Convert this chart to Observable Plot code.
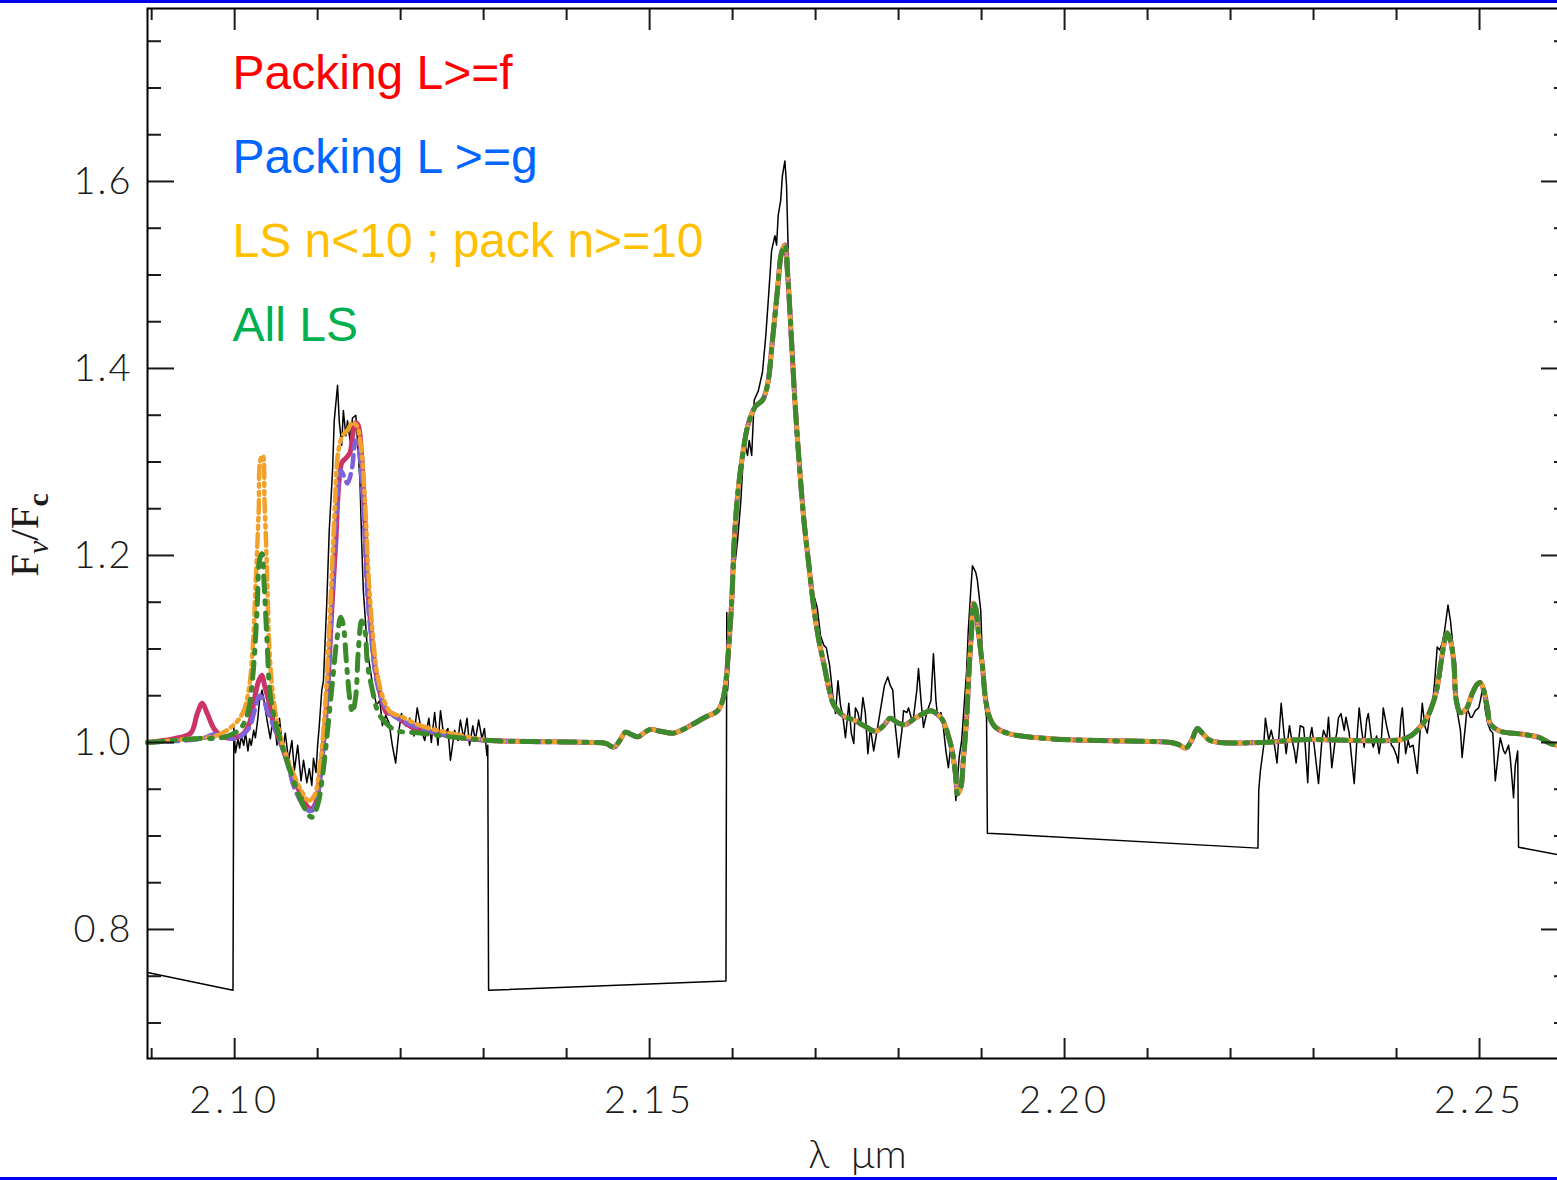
<!DOCTYPE html>
<html><head><meta charset="utf-8">
<script src="https://cdn.jsdelivr.net/npm/d3@7"></script>
<script src="https://cdn.jsdelivr.net/npm/@observablehq/plot@0.6"></script>
<style>
body{margin:0;background:#fff;}
#wrap{position:relative;width:1557px;height:1180px;overflow:hidden;background:#fff;}
.bar{position:absolute;left:0;width:1557px;height:3px;background:#0000f0;z-index:2;}
#wrap svg{display:block;position:absolute;left:0;top:0;max-width:none !important;width:1570px !important;height:1180px !important;}
#wrap svg g[aria-label="x-axis tick label"] text{letter-spacing:4px;}
#wrap svg g[aria-label="y-axis tick label"] text{letter-spacing:2px;}
</style></head><body>
<div id="wrap"><div class="bar" style="top:0"></div><div class="bar" style="bottom:0"></div></div>
<script>
// ---------- observed spectrum (wavelength µm, Fν/Fc) ----------
const observedA = [[2.0895,0.754],[2.0998,0.735],[2.0999,1.016],[2.1001,0.989],[2.1004,1.004],[2.1006,0.994],[2.1008,1.007],[2.1011,0.997],[2.1013,1.011],[2.1016,0.991],[2.1018,1.004],[2.1020,0.997],[2.1023,1.013],[2.1025,1.005],[2.1028,1.026],[2.1030,1.045],[2.1033,1.056],[2.1035,1.047],[2.1039,1.024],[2.1043,1.004],[2.1047,1.032],[2.1051,0.997],[2.1054,1.026],[2.1058,0.991],[2.1061,1.010],[2.1065,0.981],[2.1069,1.002],[2.1072,0.970],[2.1076,0.997],[2.1080,0.959],[2.1083,0.981],[2.1087,0.957],[2.1090,0.972],[2.1093,0.954],[2.1095,0.983],[2.1098,0.968],[2.1100,0.997],[2.1102,1.018],[2.1105,1.056],[2.1107,1.066],[2.1111,1.149],[2.1114,1.227],[2.1118,1.291],[2.1120,1.344],[2.1124,1.382],[2.1126,1.344],[2.1129,1.318],[2.1131,1.355],[2.1134,1.328],[2.1136,1.344],[2.1139,1.323],[2.1142,1.347],[2.1146,1.350],[2.1148,1.323],[2.1151,1.280],[2.1153,1.216],[2.1155,1.163],[2.1158,1.125],[2.1160,1.098],[2.1164,1.075],[2.1167,1.056],[2.1171,1.040],[2.1175,1.045],[2.1178,1.018],[2.1182,1.029],[2.1186,1.021],[2.1190,0.997],[2.1194,0.978],[2.1198,1.013],[2.1201,1.031],[2.1206,1.018],[2.1211,1.026],[2.1216,1.007],[2.1220,1.037],[2.1225,1.013],[2.1229,1.002],[2.1234,1.026],[2.1237,1.000],[2.1241,1.032],[2.1245,0.997],[2.1248,1.034],[2.1252,1.007],[2.1257,1.015],[2.1260,0.981],[2.1265,1.013],[2.1269,1.002],[2.1272,1.024],[2.1276,1.004],[2.1280,1.026],[2.1283,0.997],[2.1287,1.018],[2.1290,1.002],[2.1294,1.024],[2.1298,1.004],[2.1301,1.015],[2.1304,0.986],[2.1305,0.997],[2.1306,0.735]];
const observedB = [[2.1592,0.745],[2.1593,1.139],[2.1594,1.056],[2.1596,1.088],[2.1599,1.141],[2.1602,1.184],[2.1606,1.216],[2.1610,1.259],[2.1614,1.323],[2.1618,1.307],[2.1620,1.323],[2.1623,1.307],[2.1626,1.366],[2.1631,1.376],[2.1636,1.396],[2.1640,1.435],[2.1643,1.473],[2.1647,1.526],[2.1651,1.542],[2.1653,1.532],[2.1655,1.564],[2.1658,1.580],[2.1660,1.606],[2.1663,1.622],[2.1665,1.596],[2.1667,1.526],[2.1670,1.462],[2.1673,1.403],[2.1677,1.344],[2.1681,1.291],[2.1684,1.248],[2.1688,1.211],[2.1692,1.179],[2.1695,1.163],[2.1699,1.154],[2.1702,1.144],[2.1706,1.114],[2.1710,1.104],[2.1713,1.101],[2.1717,1.082],[2.1721,1.048],[2.1724,1.031],[2.1727,1.066],[2.1730,1.040],[2.1733,1.027],[2.1736,1.005],[2.1740,1.042],[2.1743,1.010],[2.1746,0.999],[2.1748,1.037],[2.1751,1.032],[2.1754,1.018],[2.1757,1.048],[2.1760,1.031],[2.1763,0.988],[2.1766,1.016],[2.1770,0.991],[2.1773,1.007],[2.1778,1.034],[2.1783,1.061],[2.1787,1.070],[2.1790,1.061],[2.1793,1.056],[2.1796,1.018],[2.1800,0.984],[2.1804,1.013],[2.1806,1.034],[2.1810,1.032],[2.1812,1.037],[2.1816,1.024],[2.1818,1.027],[2.1822,1.056],[2.1824,1.079],[2.1827,1.045],[2.1830,1.016],[2.1834,1.032],[2.1839,1.045],[2.1842,1.095],[2.1845,1.045],[2.1847,1.027],[2.1851,1.032],[2.1853,1.024],[2.1857,0.991],[2.1860,0.973],[2.1863,0.997],[2.1865,0.988],[2.1869,0.938],[2.1873,0.984],[2.1876,1.002],[2.1878,1.027],[2.1882,1.077],[2.1884,1.120],[2.1887,1.163],[2.1889,1.189],[2.1893,1.182],[2.1895,1.173],[2.1899,1.141],[2.1901,1.088],[2.1904,1.040],[2.1906,1.026],[2.1907,0.903]];
const observedC = [[2.2233,0.887],[2.2234,0.949],[2.2236,0.970],[2.2240,0.997],[2.2242,1.026],[2.2246,1.002],[2.2249,1.013],[2.2253,0.997],[2.2256,0.978],[2.2261,1.042],[2.2264,1.013],[2.2267,0.988],[2.2271,1.018],[2.2273,1.007],[2.2277,0.991],[2.2279,0.978],[2.2284,1.018],[2.2288,1.016],[2.2290,0.997],[2.2293,0.957],[2.2295,1.002],[2.2298,1.016],[2.2301,0.995],[2.2306,0.956],[2.2310,1.002],[2.2312,1.013],[2.2316,1.004],[2.2318,1.027],[2.2322,0.973],[2.2326,1.002],[2.2328,1.010],[2.2330,1.026],[2.2333,1.031],[2.2337,1.013],[2.2339,1.027],[2.2343,1.010],[2.2345,0.991],[2.2349,0.956],[2.2353,1.013],[2.2355,1.037],[2.2358,1.013],[2.2361,0.995],[2.2364,1.024],[2.2366,1.031],[2.2370,1.002],[2.2372,0.995],[2.2376,1.007],[2.2379,0.988],[2.2382,1.007],[2.2384,1.037],[2.2388,1.018],[2.2390,1.010],[2.2394,0.997],[2.2396,0.995],[2.2400,0.986],[2.2402,0.978],[2.2405,1.024],[2.2407,1.037],[2.2411,0.988],[2.2414,1.002],[2.2416,0.995],[2.2420,0.997],[2.2425,0.967],[2.2428,1.007],[2.2431,1.042],[2.2434,1.018],[2.2437,1.010],[2.2440,1.029],[2.2443,1.037],[2.2446,1.066],[2.2449,1.102],[2.2452,1.099],[2.2455,1.106],[2.2458,1.120],[2.2462,1.147],[2.2465,1.130],[2.2467,1.112],[2.2471,1.066],[2.2473,1.034],[2.2477,1.013],[2.2479,0.984],[2.2483,1.018],[2.2485,1.037],[2.2489,1.027],[2.2491,1.027],[2.2495,1.034],[2.2499,1.037],[2.2501,1.045],[2.2504,1.059],[2.2507,1.034],[2.2510,1.020],[2.2513,1.013],[2.2516,1.010],[2.2519,0.959],[2.2523,0.991],[2.2525,1.005],[2.2529,0.991],[2.2531,0.988],[2.2535,0.997],[2.2537,0.984],[2.2541,0.941],[2.2543,0.975],[2.2546,0.991],[2.2547,0.888],[2.2606,0.878]];

// ---------- model spectra: the part where the four models differ ----------
const packingFLeft = [[2.0895,1.000],[2.0927,1.004],[2.0947,1.010],[2.0955,1.031],[2.0961,1.042],[2.0967,1.031],[2.0975,1.015],[2.0986,1.006],[2.0999,1.005],[2.1010,1.009],[2.1018,1.021],[2.1025,1.052],[2.1029,1.066],[2.1033,1.072],[2.1036,1.061],[2.1040,1.048],[2.1047,1.020],[2.1059,0.991],[2.1067,0.970],[2.1076,0.952],[2.1084,0.936],[2.1092,0.929],[2.1098,0.936],[2.1102,0.959],[2.1107,0.999],[2.1112,1.056],[2.1117,1.141],[2.1122,1.216],[2.1125,1.270],[2.1129,1.299],[2.1134,1.304],[2.1139,1.310],[2.1142,1.328],[2.1146,1.342],[2.1149,1.339],[2.1153,1.307],[2.1157,1.237],[2.1160,1.173],[2.1164,1.125],[2.1169,1.082],[2.1176,1.050],[2.1183,1.032],[2.1190,1.031],[2.1198,1.026],[2.1212,1.017],[2.1236,1.011],[2.1272,1.005]];
const packingGLeft = [[2.0895,1.000],[2.0959,1.004],[2.0977,1.009],[2.1001,1.004],[2.1017,1.015],[2.1024,1.034],[2.1030,1.050],[2.1034,1.047],[2.1040,1.032],[2.1049,1.013],[2.1061,0.986],[2.1073,0.949],[2.1086,0.929],[2.1093,0.927],[2.1100,0.943],[2.1106,0.986],[2.1112,1.056],[2.1118,1.163],[2.1123,1.248],[2.1128,1.291],[2.1133,1.282],[2.1136,1.277],[2.1141,1.291],[2.1146,1.323],[2.1149,1.318],[2.1153,1.280],[2.1157,1.216],[2.1160,1.157],[2.1165,1.109],[2.1171,1.066],[2.1180,1.040],[2.1188,1.031],[2.1200,1.024],[2.1224,1.015],[2.1260,1.007]];
const lsPackLeft = [[2.0895,1.000],[2.0947,1.004],[2.0977,1.007],[2.0998,1.018],[2.1010,1.032],[2.1017,1.056],[2.1022,1.104],[2.1025,1.163],[2.1029,1.248],[2.1031,1.302],[2.1034,1.307],[2.1036,1.259],[2.1039,1.184],[2.1042,1.098],[2.1047,1.045],[2.1055,1.007],[2.1067,0.975],[2.1080,0.949],[2.1089,0.938],[2.1096,0.943],[2.1102,0.970],[2.1108,1.024],[2.1114,1.120],[2.1120,1.237],[2.1125,1.312],[2.1130,1.328],[2.1136,1.334],[2.1142,1.342],[2.1147,1.339],[2.1152,1.318],[2.1157,1.259],[2.1161,1.184],[2.1166,1.120],[2.1172,1.072],[2.1180,1.045],[2.1188,1.032],[2.1200,1.028],[2.1224,1.018],[2.1260,1.010]];
const allLSLeft = [[2.0895,1.000],[2.0953,1.004],[2.0989,1.006],[2.1007,1.015],[2.1016,1.032],[2.1022,1.072],[2.1027,1.141],[2.1030,1.195],[2.1033,1.202],[2.1035,1.178],[2.1039,1.109],[2.1043,1.050],[2.1051,1.015],[2.1061,0.986],[2.1073,0.954],[2.1086,0.927],[2.1093,0.920],[2.1100,0.933],[2.1106,0.965],[2.1112,1.013],[2.1118,1.066],[2.1123,1.109],[2.1128,1.134],[2.1131,1.125],[2.1135,1.082],[2.1139,1.045],[2.1142,1.032],[2.1146,1.050],[2.1149,1.098],[2.1153,1.130],[2.1157,1.120],[2.1160,1.084],[2.1166,1.056],[2.1173,1.032],[2.1182,1.021],[2.1194,1.013],[2.1224,1.010],[2.1260,1.006]];
// shared by all four models beyond 2.13 µm
const modelTail = [[2.1308,1.002],[2.1357,1.001],[2.1429,1.000],[2.1447,0.999],[2.1457,0.995],[2.1464,1.002],[2.1471,1.011],[2.1477,1.009],[2.1486,1.006],[2.1493,1.010],[2.1501,1.014],[2.1513,1.012],[2.1529,1.010],[2.1543,1.015],[2.1553,1.020],[2.1567,1.027],[2.1582,1.034],[2.1588,1.045],[2.1592,1.066],[2.1595,1.098],[2.1599,1.152],[2.1602,1.216],[2.1606,1.264],[2.1612,1.307],[2.1619,1.341],[2.1628,1.360],[2.1636,1.366],[2.1642,1.382],[2.1648,1.430],[2.1654,1.483],[2.1659,1.524],[2.1663,1.532],[2.1666,1.505],[2.1670,1.446],[2.1675,1.366],[2.1680,1.302],[2.1686,1.237],[2.1692,1.189],[2.1698,1.143],[2.1704,1.109],[2.1710,1.084],[2.1716,1.058],[2.1722,1.040],[2.1734,1.028],[2.1746,1.024],[2.1760,1.017],[2.1772,1.012],[2.1782,1.018],[2.1790,1.026],[2.1799,1.021],[2.1808,1.019],[2.1820,1.026],[2.1839,1.034],[2.1847,1.030],[2.1853,1.024],[2.1860,1.007],[2.1865,0.989],[2.1869,0.963],[2.1871,0.945],[2.1875,0.952],[2.1878,0.981],[2.1882,1.026],[2.1885,1.079],[2.1888,1.120],[2.1890,1.149],[2.1893,1.143],[2.1896,1.120],[2.1901,1.082],[2.1905,1.045],[2.1910,1.026],[2.1917,1.016],[2.1935,1.009],[2.1983,1.004],[2.2043,1.002],[2.2128,1.000],[2.2137,0.998],[2.2146,0.994],[2.2153,1.002],[2.2160,1.015],[2.2166,1.010],[2.2176,1.002],[2.2237,1.000],[2.2285,1.003],[2.2405,1.003],[2.2417,1.007],[2.2425,1.013],[2.2437,1.027],[2.2445,1.045],[2.2449,1.059],[2.2454,1.088],[2.2458,1.109],[2.2461,1.117],[2.2465,1.109],[2.2469,1.086],[2.2472,1.045],[2.2477,1.032],[2.2484,1.036],[2.2491,1.052],[2.2497,1.062],[2.2501,1.064],[2.2505,1.056],[2.2510,1.034],[2.2513,1.020],[2.2525,1.012],[2.2550,1.009],[2.2573,1.005],[2.2585,0.999],[2.2606,0.995]];

// ---------- legend & ticks ----------
const legendLabels = ["Packing L>=f", "Packing L >=g", "LS n<10 ; pack n>=10", "All LS"];
const legendColors = ["#ff0000", "#0066ff", "#ffc000", "#00b050"];
const xMajorTicks = [2.10, 2.15, 2.20, 2.25];
const xMinorTicks = [2.09, 2.11, 2.12, 2.13, 2.14, 2.16, 2.17, 2.18, 2.19, 2.21, 2.22, 2.23, 2.24, 2.26];
const yMajorTicks = [0.8, 1.0, 1.2, 1.4, 1.6];
const yMinorTicks = [0.7, 0.75, 0.85, 0.9, 0.95, 1.05, 1.1, 1.15, 1.25, 1.3, 1.35, 1.45, 1.5, 1.55, 1.65, 1.7, 1.75];

const observed = [...observedA, ...observedB, ...observedC];
const models = [
  {data: [...packingFLeft, ...modelTail], stroke: "#cc3368", width: 5, dash: null},
  {data: [...packingGLeft, ...modelTail], stroke: "#7d62d8", width: 4.5, dash: "12,7"},
  {data: [...lsPackLeft, ...modelTail], stroke: "#f2a22c", width: 4.5, dash: "13,5,3,5,3,5"},
  {data: [...allLSLeft, ...modelTail], stroke: "#3b8a2c", width: 5, dash: "16,9,3,9"}
];

const tickFont = "Lato, 'DejaVu Sans', sans-serif";
const plot = Plot.plot({
  width: 1570, height: 1180,
  marginLeft: 147, marginRight: 3, marginTop: 8, marginBottom: 122,
  x: {domain: [2.0895, 2.2606]},
  y: {domain: [0.662, 1.785]},
  style: {fontFamily: tickFont, fontSize: "37px", color: "#1a1a1a", background: "transparent", overflow: "visible"},
  marks: [
    Plot.line(observed, {x: d => d[0], y: d => d[1], stroke: "#000", strokeWidth: 1.5}),
    ...models.map(m => Plot.line(m.data, {x: d => d[0], y: d => d[1], stroke: m.stroke, strokeWidth: m.width, strokeDasharray: m.dash, curve: "catmull-rom"})),
    Plot.axisX(xMajorTicks, {anchor: "bottom", tickSize: -20, text: null, strokeWidth: 2, label: null}),
    Plot.axisX(xMinorTicks, {anchor: "bottom", tickSize: -10, text: null, strokeWidth: 2, label: null}),
    Plot.axisX(xMajorTicks, {anchor: "top", tickSize: -21, text: null, strokeWidth: 2, label: null}),
    Plot.axisX(xMinorTicks, {anchor: "top", tickSize: -11, text: null, strokeWidth: 2, label: null}),
    Plot.axisX(xMajorTicks, {anchor: "bottom", tickSize: 0, tickPadding: 28, tickFormat: d3.format(".2f"), label: null, fontSize: 38, fontWeight: 300}),
    Plot.axisY(yMajorTicks, {anchor: "left", tickSize: -27, text: null, strokeWidth: 2, label: null}),
    Plot.axisY(yMinorTicks, {anchor: "left", tickSize: -14, text: null, strokeWidth: 2, label: null}),
    Plot.axisY(yMajorTicks, {anchor: "right", tickSize: -27, text: null, strokeWidth: 2, label: null}),
    Plot.axisY(yMinorTicks, {anchor: "right", tickSize: -14, text: null, strokeWidth: 2, label: null}),
    Plot.axisY(yMajorTicks, {anchor: "left", tickSize: 0, tickPadding: 15, tickFormat: d3.format(".1f"), label: null, fontSize: 38, fontWeight: 300}),
    Plot.frame({stroke: "#000", strokeWidth: 2}),
    ...legendLabels.map((lab, i) => Plot.text([lab], {
      frameAnchor: "top-left", dx: 85, dy: 65 + i * 84, text: d => d,
      fill: legendColors[i], fontSize: 48, fontFamily: "'Liberation Sans', Arial, sans-serif",
      textAnchor: "start", lineAnchor: "middle"
    })),
    Plot.text(["λ  μm"], {frameAnchor: "bottom", dy: 97, text: d => d, fontSize: 40, fontWeight: 300, fill: "#1a1a1a", lineAnchor: "middle"})
  ]
});
document.getElementById("wrap").appendChild(plot);

// y-axis title with subscripts
const svg = d3.select(plot);
const yl = svg.append("text")
  .attr("transform", "translate(38,535) rotate(-90)")
  .attr("text-anchor", "middle")
  .attr("font-family", "'Liberation Serif', 'DejaVu Serif', serif")
  .attr("font-size", 41)
  .attr("fill", "#1a1a1a");
yl.append("tspan").text("F");
yl.append("tspan").attr("dy", 10).attr("font-size", 30).attr("font-style", "italic").text("ν");
yl.append("tspan").attr("dy", -10).text("/F");
yl.append("tspan").attr("dy", 10).attr("font-size", 30).attr("font-weight", "bold").text("c");
</script>
</body></html>
